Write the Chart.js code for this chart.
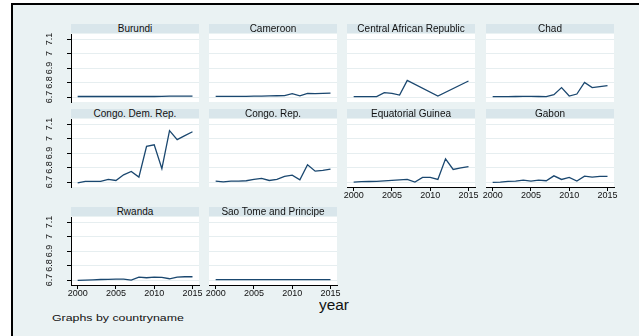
<!DOCTYPE html>
<html>
<head>
<meta charset="utf-8">
<script src="https://cdn.jsdelivr.net/npm/chart.js@4.4.1/dist/chart.umd.min.js"></script>
<style>
html, body { margin: 0; padding: 0; background: #fff; overflow: hidden; }
body { width: 639px; height: 336px; position: relative; font-family: "Liberation Sans", Arial, sans-serif; }
#frame { position: absolute; left: 11px; top: 3px; width: 700px; height: 400px; border-left: 2px solid #000; border-top: 2px solid #000; background: #eaf2f3; }
.strip { position: absolute; height: 9px; background: #d9e6eb; color: #111; font-size: 10px; line-height: 10px; text-align: center; white-space: nowrap; }
canvas { position: absolute; }
#xtitle { position: absolute; left: 319px; top: 297px; font-size: 14px; color: #111; transform: scaleX(1.1); transform-origin: left top; }
#note { position: absolute; left: 52px; top: 312px; font-size: 9.5px; color: #111; transform: scaleX(1.3); transform-origin: left top; white-space: nowrap; }
</style>
</head>
<body>
<div id="frame"></div>
<div id="xtitle">year</div>
<div id="note">Graphs by countryname</div>

<script>
// data (log-scale values), 2000-2015
const years = [2000, 2001, 2002, 2003, 2004, 2005, 2006, 2007, 2008, 2009, 2010, 2011, 2012, 2013, 2014, 2015];
const xTicks = [2000, 2005, 2010, 2015];
const yTicks = [6.7, 6.8, 6.9, 7, 7.1];

const countries = ['Burundi', 'Cameroon', 'Central African Republic', 'Chad',
                   'Congo. Dem. Rep.', 'Congo. Rep.', 'Equatorial Guinea', 'Gabon',
                   'Rwanda', 'Sao Tome and Principe'];

const burundi  = [6.704, 6.704, 6.704, 6.704, 6.704, 6.704, 6.704, 6.704, 6.704, 6.704, 6.704, 6.705, 6.706, 6.707, 6.707, 6.707];
const cameroon = [6.705, 6.705, 6.705, 6.705, 6.705, 6.706, 6.707, 6.708, 6.709, 6.710, 6.723, 6.708, 6.725, 6.724, 6.725, 6.727];
const car      = [6.703, 6.703, 6.703, 6.703, 6.730, 6.726, 6.714, 6.815, null, null, null, 6.707, null, null, null, 6.811];
const chad     = [6.703, 6.703, 6.703, 6.704, 6.705, 6.705, 6.704, 6.703, 6.716, 6.765, 6.707, 6.721, 6.801, 6.765, 6.772, 6.779];
const congoDR  = [6.695, 6.705, 6.705, 6.705, 6.718, 6.711, 6.750, 6.773, 6.734, 6.947, 6.957, 6.793, 7.055, 6.993, 7.020, 7.047];
const congoRep = [6.707, 6.702, 6.706, 6.706, 6.709, 6.718, 6.725, 6.711, 6.718, 6.739, 6.748, 6.716, 6.820, 6.775, 6.780, 6.789];
const eqGuinea = [6.700, 6.703, 6.704, 6.705, 6.708, 6.711, 6.715, 6.718, 6.700, 6.732, 6.732, 6.718, 6.860, 6.787, 6.798, 6.807];
const gabon    = [6.698, 6.700, 6.705, 6.707, 6.714, 6.707, 6.714, 6.709, 6.743, 6.718, 6.732, 6.707, 6.741, 6.734, 6.739, 6.739];
const rwanda   = [6.698, 6.700, 6.702, 6.704, 6.705, 6.707, 6.706, 6.700, 6.720, 6.716, 6.720, 6.718, 6.709, 6.720, 6.723, 6.723];
const saoTome  = [6.703, 6.703, 6.703, 6.703, 6.703, 6.703, 6.703, 6.703, 6.703, 6.703, 6.703, 6.703, 6.703, 6.703, 6.703, 6.703];

const series = [burundi, cameroon, car, chad, congoDR, congoRep, eqGuinea, gabon, rwanda, saoTome];

// panel grid
const colX = [71, 209, 347, 486];
const rowTop = [34, 119, 217];
const plotW = 128;
const plotH = 68;
const lineColor = '#1a476f';
const gridColor = '#e6eef0';

const fmtY = v => String(Number(v.toFixed(1)));

// white plot region
const plotBg = {
    id: 'plotBg',
    beforeDraw(chart) {
        const { ctx, chartArea: a } = chart;
        ctx.save();
        ctx.fillStyle = '#fff';
        ctx.fillRect(a.left, a.top, a.width, a.height);
        ctx.restore();
    }
};

// vertical (rotated) y tick labels, like Stata
const yLabels = {
    id: 'yLabels',
    afterDraw(chart, args, opts) {
        if (!opts.show) return;
        const s = chart.scales.y;
        const ctx = chart.ctx;
        ctx.save();
        ctx.font = '9px "Liberation Sans", Arial, sans-serif';
        ctx.fillStyle = '#111';
        ctx.textAlign = 'center';
        ctx.textBaseline = 'middle';
        s.ticks.forEach(t => {
            ctx.save();
            ctx.translate(s.right - 21, s.getPixelForValue(t.value));
            ctx.rotate(-Math.PI / 2);
            ctx.fillText(fmtY(t.value), 0, 0);
            ctx.restore();
        });
        ctx.restore();
    }
};

function makePanel(i) {
    const row = Math.floor(i / 4);
    const col = i % 4;
    const hasY = col === 0;
    const hasX = (row === 1 && col >= 2) || row === 2;

    const padL = hasY ? 32 : 14;
    const padR = 14;
    const padT = 6;
    const padB = hasX ? 20 : 4;

    // strip header
    const strip = document.createElement('div');
    strip.className = 'strip';
    strip.style.left = colX[col] + 'px';
    strip.style.top = (rowTop[row] - 10) + 'px';
    strip.style.width = plotW + 'px';
    strip.textContent = countries[i];
    document.body.appendChild(strip);

    const canvas = document.createElement('canvas');
    canvas.width = plotW + padL + padR;
    canvas.height = plotH + padT + padB;
    canvas.style.left = (colX[col] - padL) + 'px';
    canvas.style.top = (rowTop[row] - padT) + 'px';
    document.body.appendChild(canvas);

    new Chart(canvas, {
        type: 'line',
        data: {
            datasets: [{
                data: years.map((y, k) => ({ x: y, y: series[i][k] })),
                borderColor: lineColor,
                borderWidth: 1.3,
                pointRadius: 0,
                tension: 0,
                spanGaps: true
            }]
        },
        options: {
            responsive: false,
            animation: false,
            devicePixelRatio: 1,
            layout: { padding: { left: hasY ? 0 : padL, right: padR, top: padT, bottom: hasX ? 0 : padB } },
            plugins: {
                legend: { display: false },
                tooltip: { enabled: false },
                yLabels: { show: hasY }
            },
            scales: {
                x: {
                    type: 'linear',
                    min: 1999.13,
                    max: 2015.85,
                    display: hasX,
                    afterBuildTicks: s => { s.ticks = xTicks.map(v => ({ value: v })); },
                    afterFit: s => { s.height = hasX ? 20 : 0; s.paddingLeft = 0; s.paddingRight = 0; },
                    grid: { drawOnChartArea: false, drawTicks: true, tickLength: 4, tickColor: '#000' },
                    border: { display: true, color: '#000', width: 1 },
                    ticks: {
                        autoSkip: false, maxRotation: 0, padding: -1, color: '#111',
                        font: { family: '"Liberation Sans", Arial, sans-serif', size: 9 },
                        callback: v => String(v)
                    }
                },
                y: {
                    min: 6.666,
                    max: 7.135,
                    afterBuildTicks: s => { s.ticks = yTicks.map(v => ({ value: v })); },
                    afterFit: s => { s.width = hasY ? 32 : 0; s.paddingTop = 0; s.paddingBottom = 0; },
                    grid: { color: gridColor, lineWidth: 1, drawTicks: hasY, tickLength: 4, tickColor: '#000' },
                    border: { display: hasY, color: '#000', width: 1 },
                    ticks: { display: false }
                }
            }
        },
        plugins: [plotBg, yLabels]
    });
}

countries.forEach((c, i) => makePanel(i));
</script>
</body>
</html>
